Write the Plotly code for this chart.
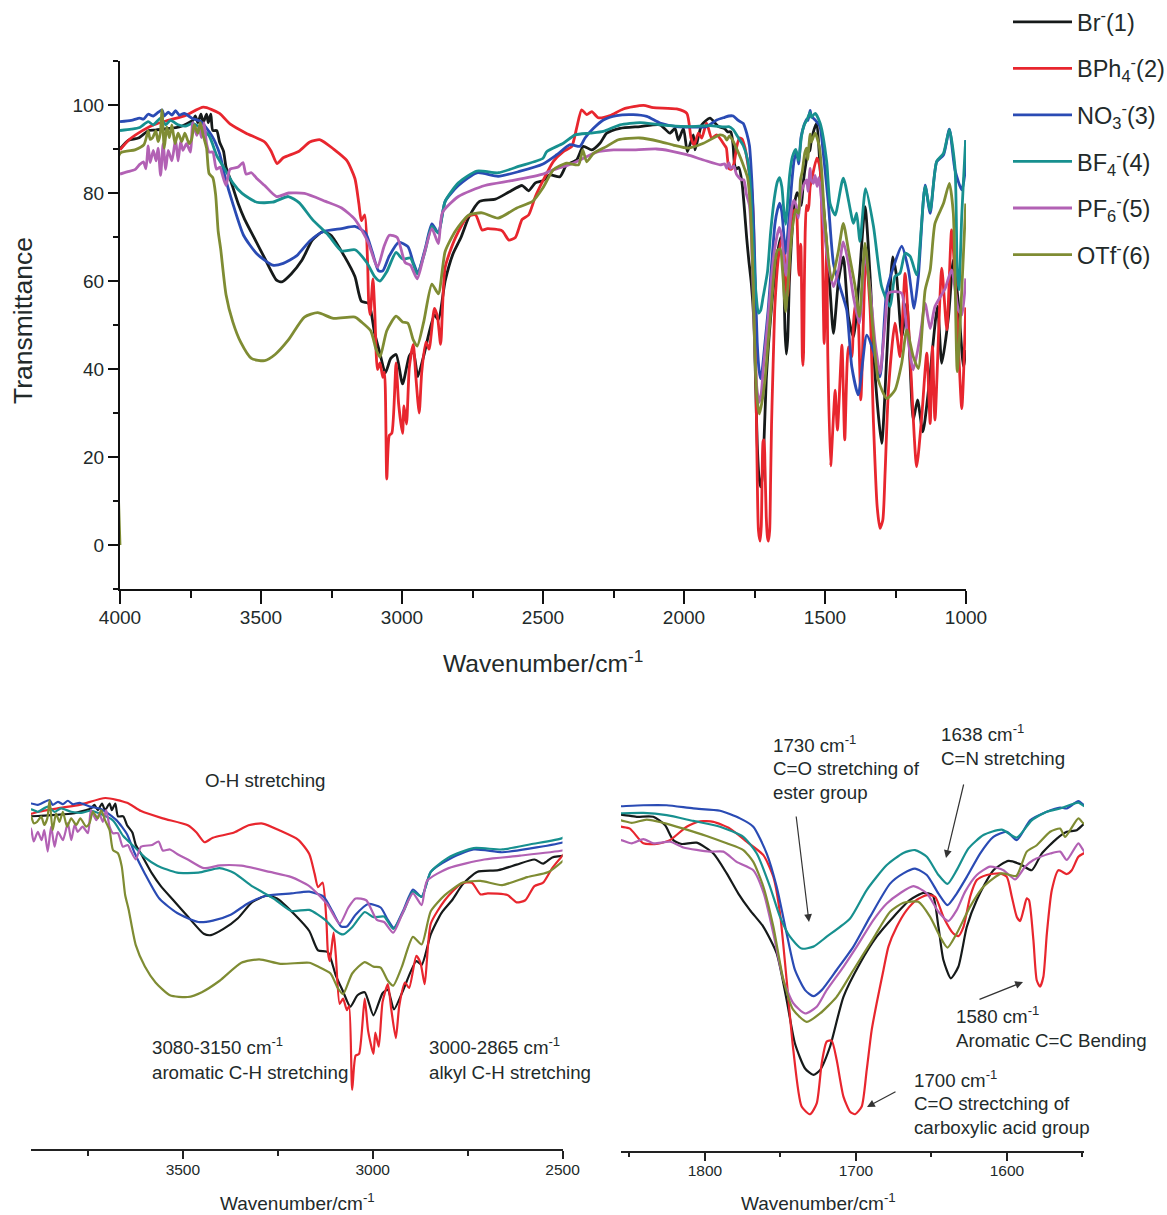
import plotly.graph_objects as go

W, H = 1167, 1215

br = [(4000,90),(3970,92),(3935,92.5),(3898,94.2),(3875,94.3),(3835,94.6),(3790,95),(3742,96.5),(3733,97.5),(3724,96),(3713,97.9),(3705,96),(3693,97.9),(3687,96),(3678,97.9),(3671,94.2),(3657,94.2),(3647,91.6),(3633,89.5),(3624,85.9),(3610,83.3),(3581,77.6),(3558,74),(3525,69.9),(3487,65.2),(3445,60.2),(3426,59.8),(3393,61.6),(3355,64.7),(3318,69.3),(3280,71.2),(3252,70.4),(3205,65.7),(3167,61),(3144,55.4),(3118,54.9),(3097,48.1),(3078,43.5),(3059,39.1),(3040,42.4),(3021,43.3),(2998,36.6),(2974,43),(2960,44),(2944,38.3),(2923,43),(2885,52.3),(2871,51.2),(2847,60),(2819,66.2),(2791,69.9),(2763,74.5),(2725,78.1),(2669,78.6),(2621,80.2),(2574,81.7),(2551,80.5),(2527,82.3),(2500,82.8),(2475,84.1),(2440,83.7),(2416,86.4),(2381,87.5),(2357,90.6),(2327,89.8),(2298,91.3),(2274,93.6),(2227,94.7),(2156,95.1),(2085,95.5),(2050,93.6),(2032,94.7),(2020,92),(2002,94.7),(1988,89.4),(1967,93.2),(1961,89.8),(1937,95.5),(1908,97),(1878,95.1),(1855.6,94.6),(1845.2,93.9),(1834.2,93.9),(1826.5,91.3),(1821,86.6),(1815.4,85.4),(1805.5,85.8),(1794.4,82.4),(1785.6,76.2),(1777.9,69.9),(1770.2,64.7),(1761.3,59.5),(1752.5,51.2),(1745.9,36.6),(1740.4,23),(1733.7,15.2),(1728.2,13.2),(1723.8,14.7),(1717.2,22),(1708.3,37.6),(1697.3,48.1),(1686.3,56.4),(1675.2,62.6),(1664.2,67.9),(1655.3,70.1),(1649.2,69.4),(1645.4,59.5),(1642.1,49.1),(1637.2,43.4),(1632.2,47),(1626.6,59.5),(1620,67.9),(1609,77.2),(1599,80.1),(1591.3,79.1),(1583.6,77.2),(1577,82.4),(1567,87.1),(1560.4,89.2),(1553.8,89.7),(1548.7,91.8),(1535,95.1),(1529,95.8),(1517,85.2),(1500,73.1),(1482,57.9),(1470,48.1),(1452,60.2),(1435,65.5),(1417,51.9),(1399,47.3),(1378,61),(1358,76.9),(1340,61),(1322,38.2),(1299,23.1),(1281,42.8),(1260,65.5),(1246,61),(1228,47.3),(1210,54.9),(1187,28.4),(1172,33),(1153,25.7),(1133,35.2),(1101,54.2),(1086,41.3),(1062,51.9),(1045,64.8),(1027,54.9),(1009,40.5),(1001,44.3)]

bph4 = [(4000,89.8),(3970,92),(3935,93.6),(3880,95.5),(3830,96.5),(3769,97.6),(3704,99.5),(3647,98.1),(3610,95.7),(3553,93.6),(3487,91.6),(3464,89.5),(3443,86.7),(3421,88),(3365,89.5),(3327,91.6),(3290,92.1),(3243,90),(3196,87.4),(3167,83.3),(3153,77.6),(3144,73.7),(3132,75),(3122,64.2),(3118,54.9),(3113,52.3),(3103,60.5),(3097,53.8),(3087,39.9),(3078,41.4),(3068,38.1),(3062,39.3),(3054,15),(3045,24.9),(3036,25.4),(3021,41.4),(3012,32.1),(2998,25.4),(2993,31.6),(2984,27.5),(2974,40.4),(2960,45.6),(2951,38.3),(2939,30),(2930,39.3),(2915,46.1),(2904,44.5),(2885,53.8),(2874,51.8),(2863,45.6),(2847,63.1),(2810,69.9),(2767,74.7),(2739,75),(2716,71.6),(2697,71.9),(2645,71.4),(2621,69.3),(2598,69.9),(2574,74),(2551,75),(2527,79.2),(2500,82.8),(2463,87.2),(2428,89.4),(2398,90.6),(2381,94.7),(2363,98.9),(2345,97.8),(2327,98.5),(2304,97.1),(2262,97.6),(2215,99.1),(2144,99.9),(2109,99.4),(2026,99.1),(1990,98.1),(1975,92.5),(1964,90.9),(1949,93.6),(1937,92.5),(1920,95.9),(1902,92.5),(1884,93.2),(1855.6,90.8),(1849.7,90.2),(1840.8,85.6),(1832,85.4),(1823.2,86.6),(1812.1,90.8),(1803.3,92.5),(1794.4,92.3),(1783.4,90.2),(1772.4,86.1),(1761.3,81.9),(1754.7,75.1),(1750.3,63.7),(1745.9,42.8),(1741.5,21),(1736,3.3),(1730.4,0.9),(1726,4.3),(1722.7,16.8),(1719.4,23.6),(1716.1,23.9),(1712.8,17.9),(1708.3,6.4),(1703.9,1.7),(1700.6,0.9),(1696.2,3.3),(1692.9,14.7),(1689.6,27.2),(1686.3,35.6),(1681.8,46),(1678.5,53.3),(1673,59.5),(1666.4,64.7),(1659.8,67.9),(1653.1,69.4),(1647.6,68.9),(1642.1,62.6),(1635.5,57.4),(1632.2,56.6),(1628.8,59.5),(1624.4,68.9),(1620,74.1),(1613.4,75.7),(1604.6,76.2),(1600.1,75.1),(1596.8,68.9),(1593.5,62.6),(1591.3,61.3),(1589.1,64.7),(1586.9,68.4),(1585.4,67.8),(1582.5,55.3),(1580.3,42.8),(1578.1,40.8),(1575.9,43.9),(1573.6,57.4),(1570.3,71),(1565.9,77.2),(1560.4,76),(1557.1,77.2),(1552.7,81.4),(1548.7,82.6),(1529,87.9),(1518,86),(1509,67),(1503,45.8),(1494,67),(1490,42.8),(1480,18),(1470,29.2),(1464,35.2),(1456,26.1),(1440,45.4),(1430,23.9),(1417,45),(1405,42.8),(1399,50.4),(1393,54.1),(1386,54.9),(1373,33),(1355,66.3),(1340,53.4),(1328,27.6),(1315,8.7),(1305,3.8),(1295,5.7),(1287,16.3),(1275,35.2),(1252,50.4),(1234,42.8),(1216,61.7),(1198,42.8),(1175,17.8),(1157,29.2),(1139,43.6),(1127,27.6),(1119,45.1),(1110,28.4),(1086,62.9),(1068,48.9),(1051,71.6),(1033,54.2),(1015,31),(1001,54)]

no3 = [(4000,96.2),(3960,96.5),(3930,97),(3917,96.8),(3900,97.9),(3882,97.5),(3869,98.1),(3851,98.9),(3843,97.5),(3829,98.4),(3816,97.7),(3803,98.7),(3790,97.7),(3772,98.1),(3745,97),(3713,96.2),(3675,93.1),(3647,89),(3628,83.8),(3600,77.6),(3562,70.4),(3515,66.2),(3459,63.6),(3421,64),(3374,65.7),(3327,69.1),(3280,71.2),(3214,71.9),(3167,72.4),(3129,70.9),(3106,66.7),(3083,62.3),(3068,62.3),(3045,65.7),(3012,68.8),(2979,67.8),(2960,64.2),(2944,61.9),(2918,67.3),(2894,73),(2871,70.9),(2847,78.1),(2800,81.7),(2734,84.6),(2659,83.8),(2584,84.9),(2500,86.6),(2451,88.7),(2404,91),(2369,90.6),(2351,92.5),(2321,94.7),(2286,96.6),(2239,97.6),(2180,97.8),(2132,97.4),(2085,95.9),(2026,95.1),(1967,95),(1920,95.1),(1884,96.6),(1855.6,97.2),(1840.8,97.5),(1825.4,97.5),(1807.7,96.5),(1790,95.8),(1776.8,93.4),(1768,90.8),(1759.1,82.4),(1752.5,72),(1745.9,57.4),(1740.4,46),(1733.7,39.7),(1728.2,37.8),(1722.7,39.7),(1712.8,46),(1701.7,53.3),(1690.7,62.6),(1677.4,73),(1668.6,76.2),(1660.9,77.7),(1653.1,75.7),(1645.4,69.9),(1639.4,66.3),(1633.3,69.9),(1626.6,75.1),(1617.8,82.4),(1609,87.6),(1600.1,89.2),(1593.5,86.6),(1584.7,92.8),(1573.6,95.5),(1564.8,96.8),(1560.4,96.5),(1552.7,98.8),(1548.7,97.5),(1535,96.6),(1518,95.1),(1506,89),(1488,77.6),(1470,64),(1447,58.7),(1423,53.4),(1405,40.5),(1382,34.1),(1352,47.7),(1328,44),(1305,38.2),(1281,57.9),(1257,63.2),(1228,67.9),(1204,62.5),(1184,53.8),(1169,61),(1145,81.8),(1127,75.4),(1104,87.1),(1080,88.6),(1059,94.5),(1039,85.2),(1015,80.7),(1003,85.2),(1001,92)]

bf4 = [(4000,94.2),(3960,94.5),(3930,94.9),(3900,96.2),(3882,95.5),(3856,97),(3838,95.5),(3821,96.5),(3794,95.5),(3768,95.2),(3742,95.8),(3685,93.1),(3657,88.5),(3628,85.4),(3600,82.3),(3567,79.9),(3515,77.9),(3459,77.9),(3403,79.2),(3365,77.8),(3318,74),(3261,70.4),(3214,66.8),(3167,67.1),(3125,64.2),(3097,61),(3078,60),(3054,62.1),(3021,66.5),(2998,65),(2970,65.2),(2946,61.6),(2918,66.8),(2894,72.4),(2871,70.9),(2847,78.1),(2800,82.3),(2734,85),(2659,84.6),(2584,86.1),(2500,87.9),(2487,89.4),(2428,91.3),(2386,93.2),(2333,93.6),(2286,94),(2227,95.5),(2156,96),(2097,95.6),(2050,95.3),(1979,95.1),(1908,95.3),(1855.6,95),(1840.8,95.1),(1825.4,94.4),(1807.7,92.6),(1790,90.8),(1774.6,87.6),(1765.7,82.4),(1756.9,72),(1750.3,62.6),(1743.7,56.4),(1736,52.7),(1728.2,53.3),(1719.4,56.4),(1703.9,62.1),(1692.9,71),(1679.6,78.8),(1668.6,82.6),(1660.9,83.5),(1653.1,81.4),(1645.4,75.7),(1639.4,72.9),(1633.3,77.2),(1625.5,84),(1615.6,88.2),(1603.5,89.9),(1593.5,87.4),(1583.6,92.8),(1573.6,95.5),(1564.8,96.5),(1552.7,98.3),(1548.7,97.2),(1535,98.1),(1517,95.8),(1494,87.1),(1482,77.6),(1464,75),(1435,83.4),(1399,73.1),(1388,75.4),(1376,69),(1356,81),(1328,72.4),(1299,58.7),(1269,54.2),(1252,61),(1234,61.8),(1216,66.3),(1198,65.6),(1175,61.4),(1145,81.5),(1127,76),(1104,87.2),(1080,89),(1059,94.4),(1039,85.8),(1031,62),(1025,58),(1015,75),(1003,90),(1001,92)]

pf6 = [(4000,84.3),(3975,84.8),(3947,85.3),(3930,86.5),(3917,87.1),(3908,85.5),(3900,90.7),(3893,86.9),(3882,89.7),(3872,87.3),(3865,90.2),(3856,84),(3847,91.2),(3838,85.4),(3829,89.7),(3816,87.3),(3803,92.2),(3794,87.3),(3785,91.7),(3777,89.7),(3764,91.2),(3750,89.3),(3742,96),(3728,93.1),(3720,95),(3711,92.6),(3702,96),(3693,91.2),(3684,89.3),(3671,89.3),(3658,85.4),(3645,85.9),(3638,84.4),(3624,81.7),(3610,85.4),(3581,85.9),(3564,86.9),(3553,84.3),(3534,84.6),(3515,83.3),(3487,81.7),(3445,79.2),(3402,80),(3346,79.9),(3271,78.1),(3214,76.6),(3167,74),(3120,68.8),(3087,63.1),(3064,67.8),(3045,70.4),(3017,69.9),(2989,64.2),(2970,63.6),(2946,60.5),(2923,65.7),(2894,71.9),(2871,68.5),(2857,75.5),(2800,79.2),(2706,81.7),(2612,82.8),(2500,84.3),(2475,85),(2392,86.8),(2310,89.3),(2250,89.8),(2191,89.8),(2097,90),(2050,89.6),(1990,88.7),(1931,87.5),(1872,86.4),(1855.6,86.6),(1848.5,85.6),(1840.8,86.9),(1834,85.6),(1823,86.1),(1814.3,84.3),(1796.7,83),(1787.8,83),(1779,79.8),(1768,77.2),(1761,69.9),(1754.7,57.4),(1748,42.8),(1741.5,35.6),(1733.7,32.4),(1726,34.5),(1719.4,39.7),(1708.3,47),(1699.5,53.3),(1688.5,61.6),(1679.6,66.8),(1670.8,70),(1662,72.2),(1653.1,70),(1645.4,64.2),(1638.8,61.3),(1633.3,64.7),(1627.7,70.5),(1620,75.7),(1611.2,78.3),(1602.3,77.2),(1594.6,74.3),(1588,78.3),(1582.5,80.4),(1571.4,82.4),(1564.8,83),(1560.4,80.4),(1552.7,85.6),(1548.7,83),(1541,82.2),(1535,84),(1528,81.5),(1522,83.5),(1517,81.4),(1503,71.6),(1488,64),(1470,58.7),(1452,62.5),(1435,68.9),(1417,64),(1399,56.4),(1378,50.4),(1358,66.3),(1340,58),(1322,45.8),(1305,39),(1287,50.4),(1275,57.2),(1252,57.6),(1228,57.2),(1210,48.9),(1187,39.8),(1163,47.3),(1145,54.9),(1127,49.2),(1110,54.2),(1074,58.3),(1051,62.5),(1027,53.4),(1015,52.3),(1001,60.6)]

otf = [(4000,0),(4000,89),(3947,89.8),(3915,91),(3900,94.1),(3893,92.2),(3884,92.6),(3873,94.1),(3865,91.7),(3857,93.6),(3851,98.9),(3843,90.2),(3834,95),(3825,92.6),(3816,95.5),(3805,91.2),(3794,93.6),(3781,91.7),(3770,93.6),(3755,91.2),(3746,92.2),(3737,95.5),(3724,93.6),(3715,96),(3705,93.1),(3693,90.2),(3684,84.4),(3671,83.5),(3661,79.7),(3652,71.4),(3643,67.3),(3624,56.9),(3600,50.7),(3572,46.1),(3534,42.4),(3487,41.9),(3450,43.3),(3403,46.6),(3346,51.8),(3299,52.8),(3243,51.5),(3167,51.8),(3144,50.7),(3111,48.7),(3092,44.5),(3078,42.7),(3054,48.7),(3021,52),(2998,50.7),(2979,50.4),(2960,46.6),(2946,45.2),(2923,50.7),(2894,59.3),(2871,57.1),(2847,66.7),(2810,71.4),(2763,75),(2716,75.5),(2659,74.3),(2593,76.6),(2537,78.1),(2500,81.2),(2463,85.3),(2416,86.8),(2374,86.4),(2359,89.8),(2345,87.1),(2321,89),(2274,90.6),(2233,92.1),(2156,92.5),(2085,91.7),(2038,90.9),(1985,90.2),(1931,91.3),(1872,93.2),(1855.6,92.8),(1848.5,92),(1838.6,93),(1827.6,92),(1814.3,90.2),(1798.9,87.9),(1785.6,85.6),(1774.6,83.5),(1768,79.8),(1761.3,72),(1754.7,59.5),(1748,42.8),(1741.5,33.5),(1732.6,29.8),(1723.8,32.4),(1712.8,37.6),(1701.7,46),(1688.5,55.9),(1677.4,64.2),(1668.6,67),(1658.7,67.3),(1650.9,62.6),(1644.3,56.4),(1639.4,53),(1633.3,57.4),(1624.4,65.8),(1615.6,72),(1603.5,76.2),(1593.9,75.4),(1586.9,83),(1580.3,85),(1571.4,89.2),(1564.8,90.2),(1561.5,87.6),(1552.7,93.4),(1548.7,91.6),(1535,93.6),(1520,90.5),(1512,85.2),(1500,73.1),(1476,60.2),(1452,67),(1435,73.1),(1417,67),(1393,58.7),(1378,51.9),(1358,68.6),(1334,51.9),(1311,37.5),(1281,33.3),(1252,35.2),(1228,41.3),(1210,48.9),(1187,42.8),(1169,40.1),(1145,57.9),(1127,62.5),(1110,73.1),(1080,77.6),(1059,82.2),(1045,75.4),(1031,39.4),(1015,57.9),(1001,77.6)]

series_data = [br, bph4, no3, bf4, pf6, otf]
series_names = ["Br<sup>-</sup>(1)", "BPh<sub>4</sub><sup>-</sup>(2)", "NO<sub>3</sub><sup>-</sup>(3)",
                "BF<sub>4</sub><sup>-</sup>(4)", "PF<sub>6</sub><sup>-</sup>(5)", "OTf<sup>-</sup>(6)"]
series_colors = ["#161a1a", "#e8262e", "#2a4bb4", "#17908f", "#b261b4", "#7f8c33"]

FONT = "Liberation Sans, Arial, sans-serif"
INK = "#222a2a"

def fx(px): return px / W
def fy(py): return 1 - py / H

fig = go.Figure()
for (pts, name, color) in zip(series_data, series_names, series_colors):
    xs = [p[0] for p in pts]
    ys = [p[1] for p in pts]
    fig.add_trace(go.Scatter(x=xs, y=ys, mode="lines", name=name, legendgroup=name,
                             line=dict(color=color, width=2.8, shape="spline", smoothing=0.6), xaxis="x", yaxis="y"))
    fig.add_trace(go.Scatter(x=xs, y=ys, mode="lines", showlegend=False, legendgroup=name,
                             line=dict(color=color, width=2.2, shape="spline", smoothing=0.6), xaxis="x2", yaxis="y2"))
    fig.add_trace(go.Scatter(x=xs, y=ys, mode="lines", showlegend=False, legendgroup=name,
                             line=dict(color=color, width=2.2, shape="spline", smoothing=0.6), xaxis="x3", yaxis="y3"))

notes = [
    ("O-H stretching", 203, 780),
    ("3080-3150 cm<sup>-1</sup>", 150, 1046),
    ("aromatic C-H stretching", 150, 1072),
    ("3000-2865 cm<sup>-1</sup>", 427, 1046),
    ("alkyl C-H stretching", 427, 1072),
    ("1730 cm<sup>-1</sup>", 771, 744),
    ("C=O stretching of", 771, 768),
    ("ester group", 771, 792),
    ("1638 cm<sup>-1</sup>", 939, 733),
    ("C=N stretching", 939, 758),
    ("1580 cm<sup>-1</sup>", 954, 1015),
    ("Aromatic C=C Bending", 954, 1040),
    ("1700 cm<sup>-1</sup>", 912, 1079),
    ("C=O strectching of", 912, 1103),
    ("carboxylic acid group", 912, 1127),
]
annotations = [dict(text=t, x=fx(x), y=fy(y), xref="paper", yref="paper", xanchor="left", yanchor="middle",
                    showarrow=False, font=dict(family=FONT, size=18.7, color=INK)) for t, x, y in notes]
annotations += [
    dict(text="Transmittance", x=fx(23), y=fy(321), xref="paper", yref="paper", textangle=-90, xanchor="center", yanchor="middle",
         showarrow=False, font=dict(family=FONT, size=26.5, color=INK)),
    dict(text="Wavenumber/cm<sup>-1</sup>", x=fx(543), y=fy(661), xref="paper", yref="paper", xanchor="center", yanchor="middle",
         showarrow=False, font=dict(family=FONT, size=24.6, color=INK)),
    dict(text="Wavenumber/cm<sup>-1</sup>", x=fx(297), y=fy(1202), xref="paper", yref="paper", xanchor="center", yanchor="middle",
         showarrow=False, font=dict(family=FONT, size=19, color=INK)),
    dict(text="Wavenumber/cm<sup>-1</sup>", x=fx(818), y=fy(1202), xref="paper", yref="paper", xanchor="center", yanchor="middle",
         showarrow=False, font=dict(family=FONT, size=19, color=INK)),
]
arrows = [(796, 815, 809, 922), (964, 783, 946, 858), (978, 1000, 1023, 982), (897, 1091, 867, 1107)]
for x0, y0, x1, y1 in arrows:
    annotations.append(dict(text="", x=fx(x1), y=fy(y1), xref="paper", yref="paper",
                            ax=x0 - x1, ay=y0 - y1, axref="pixel", ayref="pixel", showarrow=True,
                            arrowhead=2, arrowsize=1.3, arrowwidth=1.2, arrowcolor="#333333"))

main_axis = dict(showgrid=False, zeroline=False, showline=True, linecolor="#111", linewidth=2, ticks="outside",
                 tickcolor="#111", tickwidth=2, tickfont=dict(family=FONT, size=19, color=INK), layer="below traces")
inset_axis = dict(showgrid=False, zeroline=False, showline=True, linecolor="#222", linewidth=1.6, ticks="outside",
                  tickcolor="#222", tickwidth=1.6, ticklen=8, tickfont=dict(family=FONT, size=15.5, color=INK))

fig.update_layout(
    width=W, height=H, autosize=False, margin=dict(l=0, r=0, t=0, b=0, autoexpand=False),
    paper_bgcolor="white", plot_bgcolor="rgba(0,0,0,0)",
    font=dict(family=FONT, color=INK),
    annotations=annotations,
    legend=dict(x=fx(1008), y=1, xanchor="left", yanchor="top", bgcolor="rgba(0,0,0,0)",
                font=dict(family=FONT, size=23.5, color=INK), itemwidth=59,
                tracegroupgap=13, itemclick=False, itemdoubleclick=False),
    xaxis=dict(main_axis, domain=[fx(120), fx(966)], range=[4000, 1000], anchor="y",
               tickvals=[4000, 3500, 3000, 2500, 2000, 1500, 1000], ticklen=13, ticklabelstandoff=-3,
               minor=dict(ticks="outside", tickvals=[3750, 3250, 2750, 2250, 1750, 1250], ticklen=7, tickwidth=2, tickcolor="#111")),
    yaxis=dict(main_axis, domain=[fy(589), fy(61)], range=[-10, 110], anchor="x",
               tickvals=[0, 20, 40, 60, 80, 100], ticklen=10,
               minor=dict(ticks="outside", tickvals=[-10, 10, 30, 50, 70, 90, 110], ticklen=5, tickwidth=2, tickcolor="#111")),
    xaxis2=dict(inset_axis, domain=[fx(31), fx(562.5)], range=[3900, 2500], anchor="y2",
                tickvals=[3500, 3000, 2500], ticklabelstandoff=-2,
                minor=dict(ticks="outside", tickvals=[3750, 3250, 2750], ticklen=5, tickwidth=1.6, tickcolor="#222")),
    yaxis2=dict(domain=[fy(1149), fy(770)], range=[-2.1, 107.6], anchor="x2", visible=False),
    xaxis3=dict(inset_axis, domain=[fx(621), fx(1084)], range=[1855.6, 1549], anchor="y3",
                tickvals=[1800, 1700, 1600], ticklabelstandoff=-3,
                minor=dict(ticks="outside", tickvals=[1850, 1750, 1650, 1550], ticklen=4, tickwidth=1.6, tickcolor="#222")),
    yaxis3=dict(domain=[fy(1151), fy(780)], range=[-10.6, 105.4], anchor="x3", visible=False),
)

fig.write_html("out.html", post_script="document.body.style.margin='0';", config={"displayModeBar": False})
